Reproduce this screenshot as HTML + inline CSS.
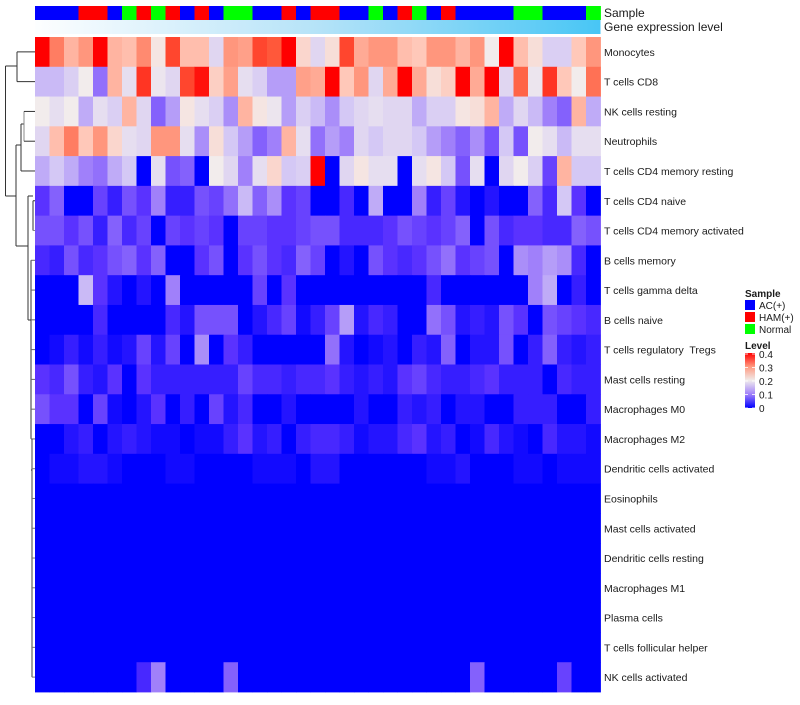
<!DOCTYPE html>
<html><head><meta charset="utf-8"><style>
body{margin:0;background:#fff;width:800px;height:700px;overflow:hidden;font-family:"Liberation Sans",sans-serif}
svg text{font-family:"Liberation Sans",sans-serif;fill:#1a1a1a}
</style></head><body>
<svg id="chart" width="800" height="700" xmlns="http://www.w3.org/2000/svg">
<defs>
<linearGradient id="geneGrad" x1="0" x2="1" y1="0" y2="0"><stop offset="0" stop-color="#fdfeff"/><stop offset="0.5" stop-color="#b5e3f8"/><stop offset="1" stop-color="#48c6f5"/></linearGradient>
<linearGradient id="levelGrad" x1="0" x2="0" y1="1" y2="0"><stop offset="0" stop-color="#0000ff"/><stop offset="0.25" stop-color="#a080fa"/><stop offset="0.5" stop-color="#f0ecec"/><stop offset="0.75" stop-color="#ff9a80"/><stop offset="1" stop-color="#ff0000"/></linearGradient>
</defs>
<g id="dendro"></g>
<g id="cells"></g>
<g id="annot"></g>
<rect x="35" y="20" width="565.5" height="14" fill="url(#geneGrad)"/>
<text x="604" y="17" font-size="12">Sample</text>
<text x="604" y="31" font-size="12">Gene expression level</text>
<g id="labels"></g>
<g>
<text x="745" y="297" font-size="10" font-weight="bold">Sample</text>
<rect x="745" y="300" width="10" height="10" fill="#0000ff"/>
<text x="759" y="309" font-size="10">AC(+)</text>
<rect x="745" y="312" width="10" height="10" fill="#ff0000"/>
<text x="759" y="321" font-size="10">HAM(+)</text>
<rect x="745" y="324" width="10" height="10" fill="#00ff00"/>
<text x="759" y="333" font-size="10">Normal</text>
<text x="745" y="349" font-size="10" font-weight="bold">Level</text>
<rect x="745" y="353" width="10" height="55" fill="url(#levelGrad)"/>
<g id="levelTicks"></g>
</g>
</svg>
<script>
const rowNames=["Monocytes","T cells CD8","NK cells resting","Neutrophils","T cells CD4 memory resting","T cells CD4 naive","T cells CD4 memory activated","B cells memory","T cells gamma delta","B cells naive","T cells regulatory  Tregs","Mast cells resting","Macrophages M0","Macrophages M2","Dendritic cells activated","Eosinophils","Mast cells activated","Dendritic cells resting","Macrophages M1","Plasma cells","T cells follicular helper","NK cells activated"];
const sampleGroups=["AC","AC","AC","HAM","HAM","AC","Normal","HAM","Normal","HAM","AC","HAM","AC","Normal","Normal","AC","AC","HAM","AC","HAM","HAM","AC","AC","Normal","AC","HAM","Normal","AC","HAM","AC","AC","AC","AC","Normal","Normal","AC","AC","AC","Normal"];
const levelTicks=[0,0.1,0.2,0.3,0.4];
const Z=Array(39).fill(0);
const r0=[0.4,0.32,0.27,0.3,0.4,0.27,0.26,0.31,0.21,0.36,0.26,0.26,0.17,0.3,0.29,0.36,0.35,0.4,0.23,0.17,0.22,0.36,0.28,0.3,0.3,0.26,0.25,0.3,0.3,0.27,0.3,0.2,0.4,0.26,0.22,0.16,0.16,0.25,0.3];
const r1=[0.14,0.14,0.16,0.2,0.09,0.27,0.18,0.37,0.19,0.17,0.36,0.39,0.24,0.29,0.18,0.16,0.12,0.12,0.29,0.28,0.4,0.25,0.3,0.17,0.28,0.4,0.28,0.22,0.24,0.4,0.28,0.4,0.17,0.34,0.19,0.37,0.25,0.2,0.33];
const r2=[0.2,0.18,0.2,0.13,0.18,0.16,0.27,0.17,0.08,0.12,0.21,0.18,0.16,0.11,0.27,0.21,0.19,0.12,0.16,0.14,0.11,0.15,0.17,0.18,0.17,0.17,0.13,0.16,0.16,0.21,0.22,0.27,0.13,0.17,0.14,0.1,0.08,0.27,0.13];
const r3=[0.17,0.26,0.32,0.25,0.3,0.23,0.18,0.17,0.3,0.3,0.18,0.11,0.22,0.15,0.12,0.08,0.1,0.27,0.18,0.09,0.12,0.1,0.17,0.15,0.17,0.17,0.15,0.12,0.1,0.08,0.11,0.07,0.15,0.07,0.2,0.18,0.14,0.18,0.18];
const r4=[0.13,0.15,0.13,0.1,0.09,0.13,0.15,0,0.18,0.07,0.08,0,0.2,0.17,0.1,0.18,0.23,0.15,0.16,0.4,0,0.17,0.21,0.18,0.18,0,0.18,0.21,0.15,0.07,0.18,0,0.17,0.2,0.16,0.06,0.27,0.15,0.15];
const r5=[0.05,0.08,0,0,0.06,0.03,0.07,0.05,0.1,0.03,0.03,0.07,0.06,0.09,0.14,0.08,0.11,0.05,0.06,0,0,0.04,0,0.13,0,0,0.1,0.03,0.06,0.02,0,0.02,0,0,0.08,0.04,0.15,0.05,0];
const r6=[0.07,0.07,0.05,0.07,0.03,0.08,0.04,0.06,0,0.06,0.05,0.06,0.05,0,0.06,0.06,0.05,0.05,0.06,0.07,0.07,0.04,0.04,0.04,0.05,0.07,0.06,0.05,0.06,0.08,0,0.07,0.04,0.05,0.05,0.04,0.04,0.08,0.07];
const r7=[0.04,0.03,0.07,0.04,0.05,0.07,0.08,0.05,0.08,0,0,0.05,0.07,0,0.05,0.07,0.05,0.04,0.08,0.06,0,0.02,0,0.07,0.05,0.04,0.05,0.07,0.09,0.05,0.06,0.07,0,0.11,0.1,0.12,0.11,0.04,0];
const r8=[0,0,0,0.14,0.05,0.02,0,0.02,0,0.1,0,0,0,0,0,0.06,0,0.05,0,0,0,0,0,0,0,0,0,0.04,0,0,0,0,0,0,0.1,0.13,0,0.03,0];
const r9=[0,0,0,0,0.04,0,0,0,0,0.04,0.02,0.07,0.07,0.07,0,0.02,0.04,0.06,0.01,0.03,0.06,0.12,0.02,0.04,0.03,0,0,0.09,0.07,0.02,0.03,0.02,0.07,0.05,0,0.07,0.06,0.05,0.04];
const r10=[0,0.01,0.03,0.01,0.03,0.01,0.02,0.06,0.02,0.06,0,0.11,0,0.05,0.03,0,0,0,0,0,0.09,0.02,0,0.01,0.02,0,0.03,0.02,0.08,0,0.02,0.02,0.07,0,0.03,0.08,0.03,0.02,0.03];
const r11=[0.05,0.04,0.07,0.03,0.02,0.05,0,0.05,0.03,0.03,0.03,0.03,0.03,0.03,0.06,0.04,0.04,0.03,0.04,0.04,0.05,0.03,0.02,0.03,0.02,0.05,0.06,0.04,0.03,0.03,0.04,0.05,0.03,0.03,0.03,0,0.04,0.03,0.03];
const r12=[0.07,0.05,0.05,0,0.06,0.01,0,0.02,0.05,0,0.03,0,0.06,0.02,0.04,0,0,0.02,0,0,0,0,0.02,0,0,0.03,0.02,0.03,0,0.02,0.02,0,0,0.03,0.03,0.03,0,0,0.03];
const r13=[0,0,0.02,0.03,0,0.02,0.03,0.02,0.01,0.01,0,0.01,0.01,0.03,0.05,0.02,0.03,0,0.03,0.04,0.04,0.03,0.01,0.02,0.02,0.04,0.05,0.02,0.03,0,0.01,0.04,0.02,0.01,0,0.04,0.02,0.02,0.01];
const r14=[0,0.01,0.01,0.02,0.02,0.01,0,0,0,0.01,0.01,0,0,0,0,0.01,0.01,0.01,0,0.02,0.02,0,0,0,0,0,0,0.01,0.01,0.02,0,0,0,0.01,0.01,0,0.01,0.01,0.01];
const r21=[0,0,0,0,0,0,0,0.04,0.1,0,0,0,0,0.08,0,0,0,0,0,0,0,0,0,0,0,0,0,0,0,0,0.08,0,0,0,0,0,0.06,0,0];
const values=[r0,r1,r2,r3,r4,r5,r6,r7,r8,r9,r10,r11,r12,r13,r14,Z,Z,Z,Z,Z,Z,r21];

const NS="http://www.w3.org/2000/svg";
const X0=35,X1=600.5,Y0=37,Y1=692;
const nCol=sampleGroups.length,nRow=rowNames.length;
const cw=(X1-X0)/nCol,rh=(Y1-Y0)/nRow;
const xPos=i=>X0+i*cw, yPos=j=>Y0+j*rh;
const groupColor={AC:"#0000ff",HAM:"#ff0000",Normal:"#00ff00"};
const stops=[[0,[0,0,255]],[0.05,[90,50,255]],[0.1,[160,128,250]],[0.15,[212,200,245]],[0.2,[242,236,236]],[0.25,[255,200,185]],[0.3,[255,150,125]],[0.35,[255,88,58]],[0.4,[255,0,0]]];
function color(v){v=Math.max(0,Math.min(0.4,v));for(let k=1;k<stops.length;k++){if(v<=stops[k][0]){const a=stops[k-1],b=stops[k];const t=(v-a[0])/(b[0]-a[0]);const c=a[1].map((x,i)=>Math.round(x+(b[1][i]-x)*t));return `rgb(${c})`;}}return "rgb(255,0,0)";}
function mk(tag,attrs,parent){const e=document.createElementNS(NS,tag);for(const k in attrs)e.setAttribute(k,attrs[k]);parent.appendChild(e);return e;}
const cells=document.getElementById('cells');
values.forEach((row,j)=>row.forEach((v,i)=>{
 const r=mk('rect',{x:xPos(i),y:yPos(j),width:cw+0.4,height:rh+0.4,fill:color(v)},cells);
 
 
}));
const annot=document.getElementById('annot');
sampleGroups.forEach((g,i)=>{
 const r=mk('rect',{x:xPos(i),y:6,width:cw+0.4,height:14,fill:groupColor[g]},annot);
 
 
});
const labels=document.getElementById('labels');
rowNames.forEach((n,j)=>{
 const t=mk('text',{x:604,y:yPos(j)+rh/2+4,'font-size':'10.5'},labels);t.textContent=n;
 t.setAttribute('xml:space','preserve');
 t.style.whiteSpace='pre';
 
 
});
const lt=document.getElementById('levelTicks');
levelTicks.forEach(v=>{
 const y=408-(v/0.4)*54;
 mk('line',{x1:745,x2:748,y1:y,y2:y,stroke:'#fff','stroke-width':0.8},lt);
 mk('line',{x1:752,x2:755,y1:y,y2:y,stroke:'#fff','stroke-width':0.8},lt);
 const t=mk('text',{x:759,y:y+4,'font-size':'10'},lt);t.textContent=v===0?'0':v.toFixed(1);
 
 
});
const d=document.getElementById('dendro');
const rc=j=>yPos(j)+rh/2;
function L(x1,y1,x2,y2,c){mk('line',{x1,y1,x2,y2,stroke:c||'#333','stroke-width':1},d);}
L(17,rc(0),35,rc(0));L(17,rc(1),35,rc(1));L(17,rc(0),17,rc(1));
L(5.5,66,17,66);L(5.5,66,5.5,196);L(5.5,196,16,196);
L(16,145,16,246);L(16,145,21,145);
L(21,124,21,rc(4));L(21,rc(4),35,rc(4));L(21,124,24,124);
L(24,rc(2),24,rc(3),'#888');L(24,rc(2),35,rc(2));L(24,rc(3),35,rc(3));
L(16,246,28,246);L(28,196,28,320);L(28,196,33,196);
L(33,rc(5),33,rc(6));L(33,rc(5),35,rc(5));L(33,rc(6),35,rc(6),'#888');
L(28,320,31,320);L(31,rc(7),31,rc(13));
for(let j=7;j<=13;j++)L(31,rc(j),35,rc(j),'#666');
L(32,rc(13),32,rc(21),'#444');L(31,470,32,470);
for(let j=14;j<=21;j++)L(32,rc(j),35,rc(j),'#777');
</script>
</body></html>
